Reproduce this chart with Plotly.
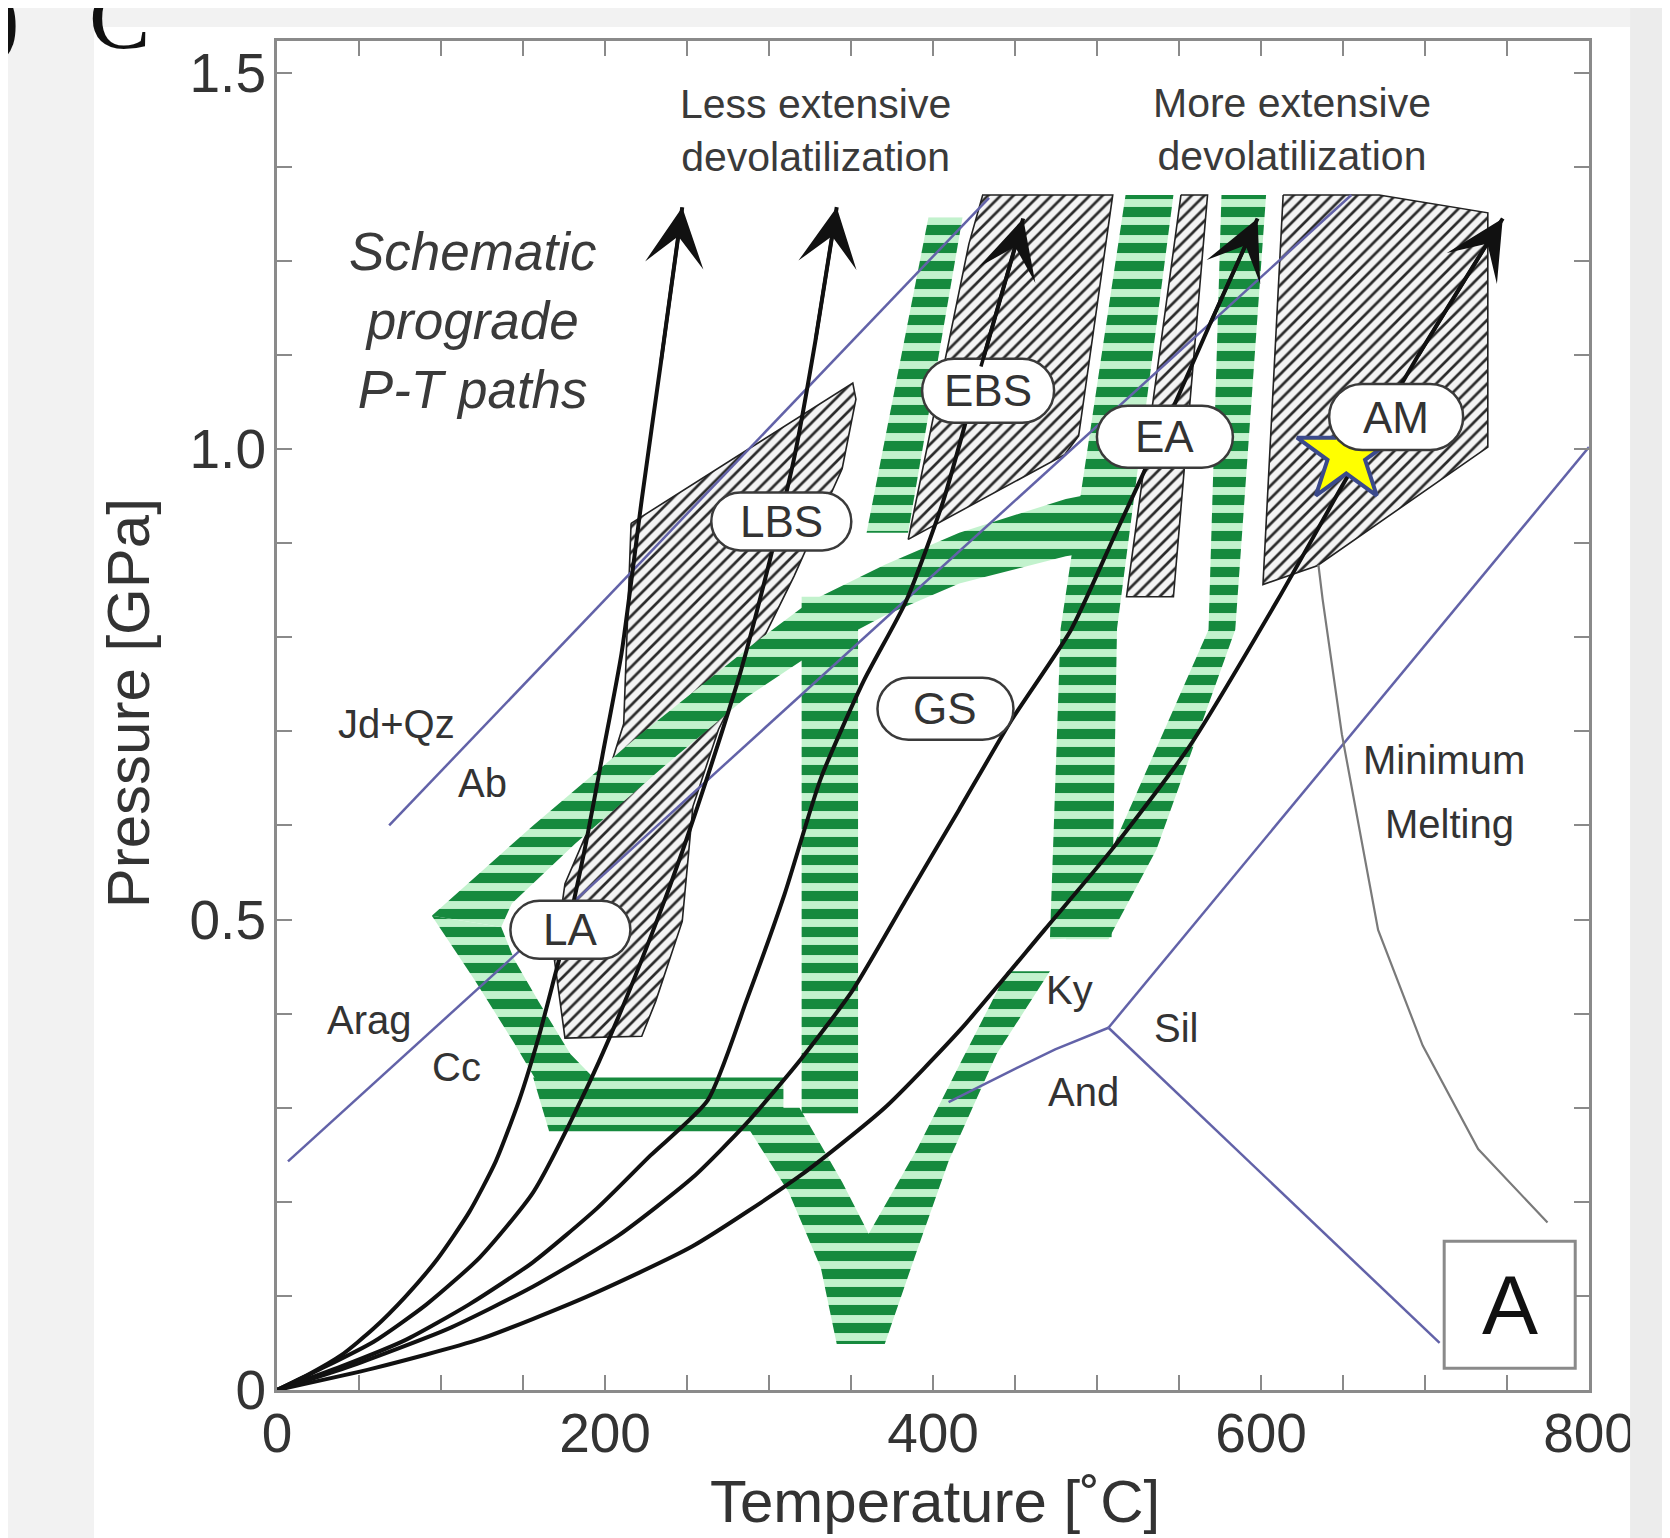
import plotly.graph_objects as go

FONT = "Liberation Sans, Arial, Helvetica, sans-serif"

# ---------------- axis ticks ----------------
x_tickvals = [0, 50, 100, 150, 200, 250, 300, 350, 400, 450, 500, 550, 600, 650, 700, 750, 800]
x_ticktext = ["0", "", "", "", "200", "", "", "", "400", "", "", "", "600", "", "", "", "800"]
y_tickvals = [0.0, 0.1, 0.2, 0.3, 0.4, 0.5, 0.6, 0.7, 0.8, 0.9, 1.0, 1.1, 1.2, 1.3, 1.4]
y_ticktext = ["0", "", "", "", "", "0.5", "", "", "", "", "1.0", "", "", "", "1.5"]

# ---------------- hatched facies fields (T [C], P [GPa]) ----------------
hatch_LA_LBS_T = [215.9, 351.1, 353.0, 344.6, 315.3, 269.2, 253.6, 247.1, 230.9, 222.4, 175.6, 169.1, 175.6, 195.1, 211.4]
hatch_LA_LBS_P = [0.921, 1.070, 1.053, 0.979, 0.865, 0.702, 0.620, 0.498, 0.413, 0.376, 0.374, 0.458, 0.538, 0.617, 0.708]
hatch_EBS_T = [421.9, 430.3, 509.6, 488.8, 480.3, 384.9]
hatch_EBS_P = [1.218, 1.270, 1.270, 1.014, 0.994, 0.904]
hatch_EA_T = [551.2, 567.4, 546.6, 518.0]
hatch_EA_P = [1.270, 1.270, 0.843, 0.843]
hatch_AM_T = [613.5, 672.0, 738.3, 738.3, 634.3, 601.2]
hatch_AM_P = [1.270, 1.270, 1.251, 1.002, 0.876, 0.856]

# ---------------- green (striped) facies boundaries ----------------
green_upper_T = [94.4, 156.2, 221.1, 286.1, 325.1, 370.6, 416.0, 481.0, 510.2, 510.2, 481.0, 416.0, 370.6, 325.1, 286.1, 234.1, 182.1, 143.2, 136.7]
green_upper_P = [0.504, 0.600, 0.696, 0.787, 0.838, 0.877, 0.911, 0.947, 0.957, 0.894, 0.886, 0.857, 0.823, 0.781, 0.736, 0.660, 0.581, 0.517, 0.492]
green_lower_T = [94.4, 120.4, 144.5, 159.4, 169.1, 195.1, 178.9, 159.4, 144.5, 136.7]
green_lower_P = [0.504, 0.436, 0.369, 0.325, 0.294, 0.328, 0.357, 0.413, 0.458, 0.492]
green_horiz_T = [156.2, 308.8, 308.8, 165.9]
green_horiz_P = [0.332, 0.332, 0.275, 0.275]
green_V_T = [279.6, 312.1, 331.6, 341.3, 370.6, 390.0, 409.5, 438.8, 471.3, 445.3, 416.0, 390.0, 360.8, 344.6, 318.6]
green_V_P = [0.300, 0.210, 0.130, 0.049, 0.049, 0.147, 0.243, 0.357, 0.445, 0.445, 0.345, 0.255, 0.166, 0.221, 0.300]
green_GSleft_T = [319.9, 354.3, 354.3, 319.9]
green_GSleft_P = [0.843, 0.843, 0.294, 0.294]
green_mid_T = [517.4, 546.6, 512.2, 508.9, 471.3, 477.8]
green_mid_P = [1.270, 1.270, 0.809, 0.481, 0.479, 0.809]
green_right_T = [575.9, 603.1, 584.3, 536.2, 507.0, 481.0, 508.9, 568.0]
green_right_P = [1.270, 1.270, 0.808, 0.574, 0.479, 0.479, 0.574, 0.808]
green_top_T = [397.2, 418.0, 384.8, 359.5]
green_top_P = [1.246, 1.246, 0.911, 0.911]

# ---------------- reaction lines ----------------
jdqz_ab_T = [68.4, 434.2]
jdqz_ab_P = [0.600, 1.267]
arag_cc_T = [6.7, 655.1]
arag_cc_P = [0.243, 1.270]
ky_sil_T = [507.0, 800.0]
ky_sil_P = [0.385, 1.002]
and_sil_T = [507.0, 708.9]
and_sil_P = [0.385, 0.050]
ky_and_T = [507.0, 474.5, 448.5, 409.5]
ky_and_P = [0.385, 0.362, 0.340, 0.306]
melt_T = [635.0, 637.6, 649.3, 671.4, 698.6, 732.4, 774.7]
melt_P = [0.877, 0.840, 0.697, 0.489, 0.366, 0.256, 0.178]

# ---------------- schematic prograde P-T paths ----------------
path_LA_T = [0, 19.7, 39.2, 58.7, 78.2, 97.7, 117.2, 133.4, 147.7, 159.4, 169.1, 178.9, 188.6, 198.4, 210.1, 222.4, 234.1, 247.1]
path_LA_P = [0, 0.017, 0.037, 0.065, 0.099, 0.139, 0.189, 0.243, 0.308, 0.374, 0.438, 0.504, 0.583, 0.674, 0.783, 0.946, 1.092, 1.257]
path_LBS_T = [0, 26.2, 58.7, 91.2, 123.7, 156.2, 185.4, 208.1, 231.5, 247.1, 262.7, 282.8, 300.4, 315.3, 328.3, 341.3]
path_LBS_P = [0, 0.022, 0.051, 0.091, 0.141, 0.210, 0.308, 0.396, 0.498, 0.572, 0.653, 0.764, 0.881, 0.990, 1.115, 1.257]
path_EBS_T = [0, 39.2, 78.2, 117.2, 156.2, 195.1, 227.6, 262.7, 286.1, 309.5, 331.6, 357.6, 383.5, 406.3, 429.0, 455.0]
path_EBS_P = [0, 0.025, 0.053, 0.091, 0.136, 0.193, 0.249, 0.308, 0.413, 0.527, 0.650, 0.753, 0.838, 0.945, 1.086, 1.245]
path_EA_T = [0, 45.7, 104.2, 156.2, 208.1, 253.6, 286.1, 319.2, 351.1, 383.5, 416.0, 447.9, 484.2, 510.2, 538.8, 568.7, 597.9]
path_EA_P = [0, 0.026, 0.065, 0.110, 0.164, 0.226, 0.283, 0.351, 0.425, 0.521, 0.617, 0.712, 0.808, 0.906, 1.014, 1.132, 1.245]
path_AM_T = [0, 58.7, 123.7, 188.6, 253.6, 319.2, 370.6, 417.3, 468.0, 508.9, 556.4, 610.3, 651.2, 695.4, 747.4]
path_AM_P = [0, 0.023, 0.054, 0.099, 0.153, 0.228, 0.300, 0.384, 0.489, 0.574, 0.684, 0.840, 0.966, 1.098, 1.245]

# ---------------- labels ----------------
facies_labels = ["LA", "LBS", "EBS", "EA", "AM", "GS"]
facies_T = [178.9, 307.5, 433.6, 541.4, 682.4, 407.6]
facies_P = [0.489, 0.923, 1.062, 1.013, 1.034, 0.724]

rxn_labels = ["Jd+Qz", "Ab", "Arag", "Cc", "Ky", "Sil", "And", "Minimum", "Melting"]
rxn_T = [73.0, 125.0, 56.7, 109.4, 483.5, 547.9, 491.5, 711.6, 714.9]
rxn_P = [0.708, 0.645, 0.393, 0.343, 0.425, 0.385, 0.317, 0.670, 0.602]

star_T = [652.0]
star_P = [0.995]

# ================= styles =================
HATCH = dict(shape="/", fgcolor="#2a2a2a", bgcolor="#f4f4f4", size=9, solidity=0.3, fgopacity=1)
GREEN = dict(shape="-", fgcolor="#168a3e", bgcolor="#c2f2cd", size=18, solidity=0.56, fgopacity=1)
BLUE = "#6262a8"
BUBBLE_HALF = {"LA": (60, 29), "LBS": (70, 29), "EBS": (66, 32), "EA": (68, 31), "AM": (67, 33), "GS": (68, 31)}

fig = go.Figure()


def add_poly(T, P, pattern, outline=None):
    fig.add_trace(go.Scatter(
        x=T + T[:1], y=P + P[:1], mode="lines", fill="toself",
        fillpattern=pattern, fillcolor=pattern["bgcolor"],
        line=dict(color=outline if outline else "rgba(0,0,0,0)", width=1.6 if outline else 0),
        hoverinfo="skip", showlegend=False))


for T, P in [(hatch_LA_LBS_T, hatch_LA_LBS_P), (hatch_EBS_T, hatch_EBS_P),
             (hatch_EA_T, hatch_EA_P), (hatch_AM_T, hatch_AM_P)]:
    add_poly(T, P, HATCH, outline="#222222")

for T, P in [(green_upper_T, green_upper_P), (green_lower_T, green_lower_P),
             (green_horiz_T, green_horiz_P), (green_V_T, green_V_P),
             (green_GSleft_T, green_GSleft_P), (green_mid_T, green_mid_P),
             (green_right_T, green_right_P), (green_top_T, green_top_P)]:
    add_poly(T, P, GREEN)


def add_line(T, P, color, width):
    fig.add_trace(go.Scatter(x=T, y=P, mode="lines", line=dict(color=color, width=width),
                             hoverinfo="skip", showlegend=False))


for T, P in [(jdqz_ab_T, jdqz_ab_P), (arag_cc_T, arag_cc_P), (ky_sil_T, ky_sil_P),
             (and_sil_T, and_sil_P), (ky_and_T, ky_and_P)]:
    add_line(T, P, BLUE, 2.5)
add_line(melt_T, melt_P, "#7a7a7a", 2.2)

paths = [(path_LA_T, path_LA_P), (path_LBS_T, path_LBS_P), (path_EBS_T, path_EBS_P),
         (path_EA_T, path_EA_P), (path_AM_T, path_AM_P)]
annotations = []
for T, P in paths:
    fig.add_trace(go.Scatter(x=T, y=P, mode="lines",
                             line=dict(color="#111111", width=4, shape="spline", smoothing=0.6),
                             hoverinfo="skip", showlegend=False))
    annotations.append(dict(x=T[-1], y=P[-1], ax=T[-2], ay=P[-2], xref="x", yref="y",
                            axref="x", ayref="y", showarrow=True, arrowhead=3,
                            arrowsize=2.8, arrowwidth=3.5, arrowcolor="#111111", text=""))

fig.add_trace(go.Scatter(x=star_T, y=star_P, mode="markers",
                         marker=dict(symbol="star", size=74, color="#ffff00",
                                     line=dict(color="#3b4a8c", width=4)),
                         hoverinfo="skip", showlegend=False))


def stadium(w, h):
    r = h
    a = w - r
    k = 0.5523 * r
    return (f"M{-a},{-h} L{a},{-h} C{a + k},{-h} {w},{-k} {w},0 C{w},{k} {a + k},{h} {a},{h} "
            f"L{-a},{h} C{-a - k},{h} {-w},{k} {-w},0 C{-w},{-k} {-a - k},{-h} {-a},{-h} Z")


shapes = [
    # slide backdrop: white picture area
    dict(type="rect", xref="paper", yref="paper", x0=-0.1395, x1=1.0313, y0=-0.13, y1=1.0104,
         fillcolor="white", line=dict(width=0), layer="below"),
    # A box
    dict(type="rect", xref="x", yref="y", x0=711.7, x1=791.6, y0=0.023, y1=0.158,
         fillcolor="white", line=dict(color="#8a8a8a", width=3), layer="above"),
    # right grey strip of slide
    dict(type="rect", xref="paper", yref="paper", x0=1.0313, x1=1.08, y0=-0.13, y1=1.05,
         fillcolor="#ececec", line=dict(width=0), layer="above"),
]
for lab, T, P in zip(facies_labels, facies_T, facies_P):
    w, h = BUBBLE_HALF[lab]
    shapes.append(dict(type="path", xref="x", yref="y", xsizemode="pixel", ysizemode="pixel",
                       xanchor=T, yanchor=P, path=stadium(w, h),
                       fillcolor="white", line=dict(color="#3a3a3a", width=2.5), layer="above"))
    annotations.append(dict(x=T, y=P, xref="x", yref="y", text=lab, showarrow=False,
                            xanchor="center", yanchor="middle",
                            font=dict(family=FONT, size=44, color="#333333")))

for lab, T, P in zip(rxn_labels, rxn_T, rxn_P):
    annotations.append(dict(x=T, y=P, xref="x", yref="y", text=lab, showarrow=False,
                            xanchor="center", yanchor="middle",
                            font=dict(family=FONT, size=40, color="#333333")))

annotations += [
    dict(x=328.3, y=1.338, xref="x", yref="y", text="Less extensive<br>devolatilization", showarrow=False,
         xanchor="center", yanchor="middle", font=dict(family=FONT, size=41, color="#3a3a3a")),
    dict(x=618.7, y=1.340, xref="x", yref="y", text="More extensive<br>devolatilization", showarrow=False,
         xanchor="center", yanchor="middle", font=dict(family=FONT, size=41, color="#3a3a3a")),
    dict(x=119.0, y=1.137, xref="x", yref="y", text="<i>Schematic<br>prograde<br>P-T paths</i>", showarrow=False,
         xanchor="center", yanchor="middle", font=dict(family=FONT, size=53, color="#3a3a3a")),
    dict(x=751.6, y=0.090, xref="x", yref="y", text="A", showarrow=False,
         xanchor="center", yanchor="middle", font=dict(family=FONT, size=84, color="#111111")),
    dict(x=-0.1136, y=0.509, xref="paper", yref="paper", text="Pressure [GPa]", textangle=-90,
         xanchor="center", yanchor="middle",
         showarrow=False, font=dict(family=FONT, size=60, color="#333333")),
    dict(x=0.5015, y=-0.083, xref="paper", yref="paper", text="Temperature [˚C]",
         xanchor="center", yanchor="middle",
         showarrow=False, font=dict(family=FONT, size=60, color="#333333")),
    # fragments of the slide title cropped at the top edge
    dict(x=-0.2075, y=1.018, xref="paper", yref="paper", text=")", showarrow=False,
         xanchor="center", yanchor="middle", font=dict(family="Liberation Serif, serif", size=92, color="#111111")),
    dict(x=-0.1204, y=1.018, xref="paper", yref="paper", text="C", showarrow=False,
         xanchor="center", yanchor="middle", font=dict(family="Liberation Serif, serif", size=92, color="#111111")),
]

axis_common = dict(showgrid=False, zeroline=False, showline=True, linecolor="#8a8a8a", linewidth=3,
                   mirror="ticks", ticks="inside", ticklen=15, tickwidth=2, tickcolor="#8a8a8a",
                   tickfont=dict(family=FONT, size=55, color="#333333"))

fig.update_layout(
    width=1670, height=1538, autosize=False,
    margin=dict(l=269, r=89, t=33, b=156),
    paper_bgcolor="#f2f2f2", plot_bgcolor="white",
    xaxis=dict(range=[0, 800], tickmode="array", tickvals=x_tickvals, ticktext=x_ticktext,
               ticklabelstandoff=-7, **axis_common),
    yaxis=dict(range=[0, 1.4336], tickmode="array", tickvals=y_tickvals, ticktext=y_ticktext,
               ticklabelstandoff=-3, **axis_common),
    shapes=shapes, annotations=annotations, showlegend=False,
)

fig.write_html("out.html")
